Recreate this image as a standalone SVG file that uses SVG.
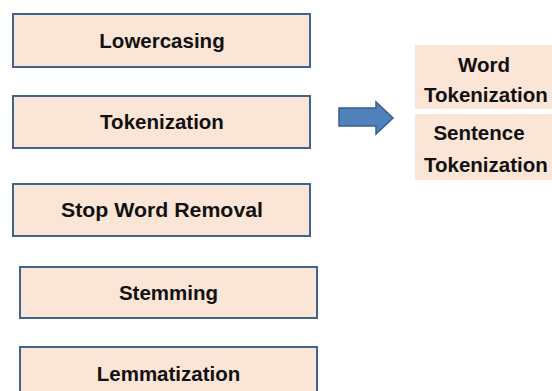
<svg xmlns="http://www.w3.org/2000/svg" width="552" height="391" viewBox="0 0 552 391">
<style>
.box{fill:#FBE5D6;stroke:#41648F;stroke-width:2}
.sub{fill:#FBE5D6}
.t{font-family:"Liberation Sans",Arial,sans-serif;font-weight:bold;font-size:20.5px;fill:#111}
.c{text-anchor:middle}
</style>
<rect width="552" height="391" fill="#ffffff"/>
<g id="lowercasing"><rect class="box" x="13" y="14" width="297" height="53"/><text class="t c" x="162" y="48">Lowercasing</text></g>
<g id="tokenization"><rect class="box" x="13" y="96" width="297" height="52"/><text class="t c" x="162" y="129">Tokenization</text></g>
<g id="stopword"><rect class="box" x="13" y="184" width="297" height="52"/><text class="t c" x="162" y="217" textLength="202" lengthAdjust="spacingAndGlyphs">Stop Word Removal</text></g>
<g id="stemming"><rect class="box" x="20" y="267" width="297" height="51"/><text class="t c" x="168.5" y="300">Stemming</text></g>
<g id="lemmatization"><rect class="box" x="20" y="347" width="297" height="56"/><text class="t c" x="168.5" y="381">Lemmatization</text></g>
<g id="connectors"><polygon points="339,108 376,108 376,102 393,118 376,134 376,126 339,126" fill="#4F81BD" stroke="#385D8A" stroke-width="1.5"/></g>
<g id="wordtok"><rect class="sub" x="415" y="45" width="137" height="64"/><text class="t c" x="484" y="72">Word</text><text class="t" x="424" y="102">Tokenization</text></g>
<g id="senttok"><rect class="sub" x="415" y="114" width="137" height="66"/><text class="t c" x="479" y="140">Sentence</text><text class="t" x="424" y="172">Tokenization</text></g>
</svg>
